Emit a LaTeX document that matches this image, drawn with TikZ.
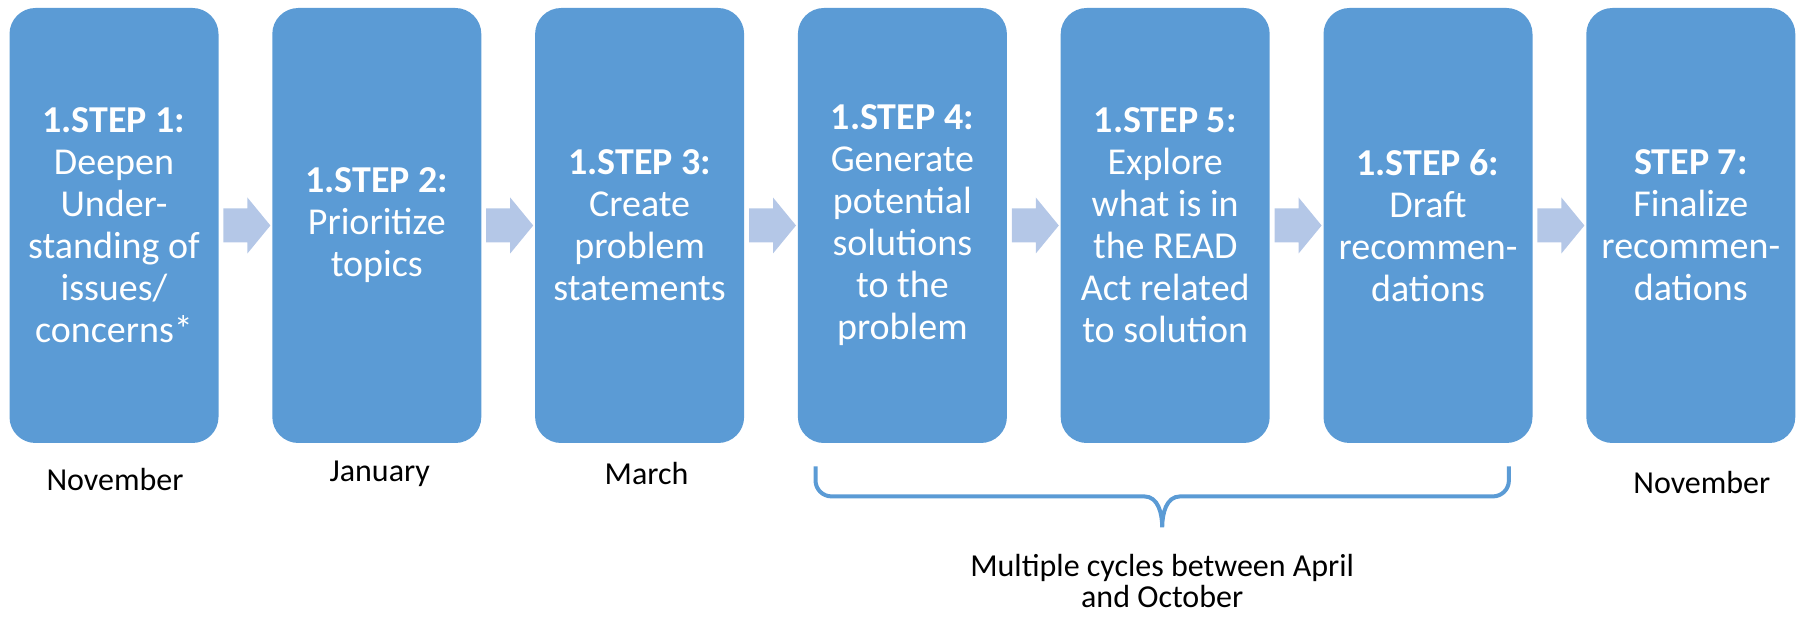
\documentclass[tikz,border=0pt]{standalone}
\usepackage{fontspec}
\setmainfont{Carlito}
\usepackage{xcolor}
\usepackage{tikz}
\usetikzlibrary{positioning,calc}

\definecolor{boxblue}{HTML}{5B9BD5}
\definecolor{arrowblue}{HTML}{B4C7E7}
\tikzset{
  stepbox/.style={fill=boxblue,rounded corners=13pt,minimum width=104.5pt,
    minimum height=217.5pt,inner sep=0pt,text=white,align=center,
    font=\fontsize{19}{21}\selectfont},
  month/.style={text=black,font=\fontsize{16}{15.5}\selectfont},
  steparrow/.style={fill=arrowblue},
}

\begin{document}
\begin{tikzpicture}[node distance=26.5pt]
	\useasboundingbox (0,0) rectangle (905pt,308pt);
	\node[stepbox] (s1) at (57pt,195.25pt) {\textbf{1.STEP 1:}\\Deepen\\Under-\\standing of\\issues/\\concerns*};
	\node[stepbox,right=of s1] (s2) {\textbf{1.STEP 2:}\\Prioritize\\topics};
	\node[stepbox,right=of s2] (s3) {\textbf{1.STEP 3:}\\Create\\problem\\statements};
	\node[stepbox,right=of s3] (s4) {\textbf{1.STEP 4:}\\Generate\\potential\\solutions\\to the\\problem};
	\node[stepbox,right=of s4] (s5) {\textbf{1.STEP 5:}\\Explore\\what is in\\the READ\\Act related\\to solution};
	\node[stepbox,right=of s5] (s6) {\textbf{1.STEP 6:}\\Draft\\recommen-\\dations};
	\node[stepbox,right=of s6] (s7) {\textbf{STEP 7:}\\Finalize\\recommen-\\dations};
	\foreach \a in {1,...,6}
	  \fill[steparrow] ([xshift=2.25pt,yshift=8.5pt]s\a.east) -- ++(12pt,0) -- ++(0,5.5pt)
	    -- ++(11.5pt,-14pt) -- ++(-11.5pt,-14pt) -- ++(0,5.5pt) -- ++(-12pt,0) -- cycle;
	\node[month] (m1) at ([xshift=0.5pt,yshift=-18pt]s1.south) {November};
	\node[month] (m2) at ([xshift=1.5pt,yshift=-15pt]s2.south) {January};
	\node[month] (m3) at ([xshift=3.5pt,yshift=-15pt]s3.south) {March};
	\node[month] (m7) at ([xshift=5.5pt,yshift=-19.5pt]s7.south) {November};
	% brace under steps 4 to 6
	\coordinate (bl) at ([xshift=9pt,yshift=-11.5pt]s4.south west);
	\coordinate (br) at ([xshift=-12pt,yshift=-11.5pt]s6.south east);
	\coordinate (bm) at ($(bl)!0.5!(br)+(0,-30.5pt)$);
	\draw[boxblue,line width=2pt] (bl) -- ++(0,-7pt) to[out=-90,in=180] ++(8pt,-8pt)
	  -- ($(bm)+(-9pt,15.5pt)$) to[out=0,in=90] (bm) to[out=90,in=180] ($(bm)+(9pt,15.5pt)$)
	  -- ($(br)+(-8pt,-15pt)$) to[out=0,in=-90] ($(br)+(0,-7pt)$) -- (br);
	\node[month,align=center] (cyc) at ([yshift=-27pt]bm) {Multiple cycles between April\\and October};
\end{tikzpicture}
\end{document}
